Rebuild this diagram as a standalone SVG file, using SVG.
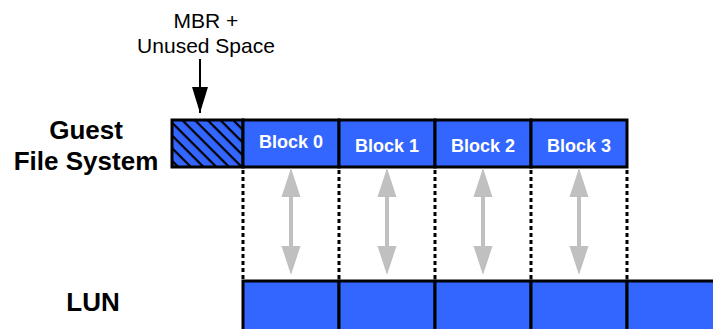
<svg xmlns="http://www.w3.org/2000/svg" width="713" height="329" viewBox="0 0 713 329">
  <style>
    .lbl { font-family: "Liberation Sans", Arial, sans-serif; font-weight: bold; font-size: 26px; fill: #000; text-anchor: middle; }
    .note { font-family: "Liberation Sans", Arial, sans-serif; font-size: 21px; fill: #000; text-anchor: middle; }
    .blk { fill: #3366ff; stroke: #000; stroke-width: 3; }
    .btxt { font-family: "Liberation Sans", Arial, sans-serif; font-weight: bold; font-size: 18px; fill: #fff; text-anchor: middle; }
    .dot { stroke: #000; stroke-width: 3; stroke-dasharray: 4 3; fill: none; }
    .map { fill: #c0c0c0; }
  </style>
  <defs>
    <pattern id="hatch" width="9" height="9" patternUnits="userSpaceOnUse" patternTransform="rotate(45)">
      <rect width="9" height="9" fill="#3366ff"/>
      <rect x="0" y="0" width="9" height="2.2" fill="#000"/>
    </pattern>
    <marker id="ah" markerWidth="26" markerHeight="16" refX="26" refY="8" orient="auto" markerUnits="userSpaceOnUse" viewBox="0 0 26 16">
      <path d="M0,0 L26,8 L0,16 z" fill="#000"/>
    </marker>
  </defs>

  <!-- side labels -->
  <g id="label-guest">
    <text class="lbl" x="86" y="139">Guest</text>
    <text class="lbl" x="86" y="170">File System</text>
  </g>
  <g id="label-lun">
    <text class="lbl" x="93" y="311">LUN</text>
  </g>

  <!-- callout -->
  <g id="mbr-callout">
    <text class="note" x="206" y="28">MBR +</text>
    <text class="note" x="206" y="53">Unused Space</text>
  </g>

  <!-- guest file system row -->
  <g id="mbr">
    <rect x="172" y="120" width="71" height="47" fill="url(#hatch)" stroke="#000" stroke-width="3"/>
  </g>
  <g id="block0">
    <rect class="blk" x="243" y="120" width="96" height="47"/>
    <text class="btxt" x="291" y="148">Block 0</text>
  </g>
  <g id="block1">
    <rect class="blk" x="339" y="120" width="96" height="47"/>
    <text class="btxt" x="387" y="152">Block 1</text>
  </g>
  <g id="block2">
    <rect class="blk" x="435" y="120" width="96" height="47"/>
    <text class="btxt" x="483" y="152">Block 2</text>
  </g>
  <g id="block3">
    <rect class="blk" x="531" y="120" width="96" height="47"/>
    <text class="btxt" x="579" y="152">Block 3</text>
  </g>

  <!-- LUN row -->
  <g id="lun">
    <rect class="blk" x="243" y="281" width="96" height="50"/>
    <rect class="blk" x="339" y="281" width="96" height="50"/>
    <rect class="blk" x="435" y="281" width="96" height="50"/>
    <rect class="blk" x="531" y="281" width="96" height="50"/>
    <rect class="blk" x="627" y="281" width="96" height="50"/>
  </g>

  <!-- connectors -->
  <g id="connectors">
    <line x1="200" y1="59" x2="200" y2="113" stroke="#000" stroke-width="2" marker-end="url(#ah)"/>
    <line class="dot" x1="243" y1="170" x2="243" y2="279"/>
    <line class="dot" x1="339" y1="170" x2="339" y2="279"/>
    <line class="dot" x1="435" y1="170" x2="435" y2="279"/>
    <line class="dot" x1="531" y1="170" x2="531" y2="279"/>
    <line class="dot" x1="627" y1="170" x2="627" y2="279"/>
    <path class="map" d="M291,168 L300.5,197 L293,197 L293,246 L300.5,246 L291,275 L281.5,246 L289,246 L289,197 L281.5,197 Z"/>
    <path class="map" d="M387,168 L396.5,197 L389,197 L389,246 L396.5,246 L387,275 L377.5,246 L385,246 L385,197 L377.5,197 Z"/>
    <path class="map" d="M483,168 L492.5,197 L485,197 L485,246 L492.5,246 L483,275 L473.5,246 L481,246 L481,197 L473.5,197 Z"/>
    <path class="map" d="M579,168 L588.5,197 L581,197 L581,246 L588.5,246 L579,275 L569.5,246 L577,246 L577,197 L569.5,197 Z"/>
  </g>
</svg>
